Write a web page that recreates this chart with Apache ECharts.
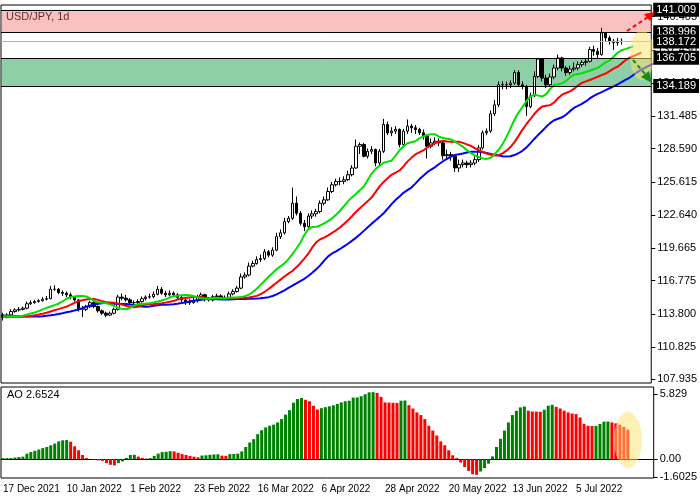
<!DOCTYPE html>
<html>
<head>
<meta charset="utf-8">
<style>html,body{margin:0;padding:0;background:#fff}</style>
</head>
<body>
<div id="main" style="width:700px;height:500px;"></div>
<script src="https://cdn.jsdelivr.net/npm/echarts@6/dist/echarts.min.js"></script>
<script>
  // daily USD/JPY closes, highs, lows (open = previous close)
  let firstOpen = 113.7;
  let closes = [113.5,113.7,114.0,114.15,114.2,114.3,114.7,114.8,114.9,114.97,115.1,115.15,
    116.0,116.0,115.7,115.64,115.5,115.28,115.04,114.2,114.2,114.43,114.8,114.45,
    114.07,113.86,113.68,113.85,114.2,115.3,115.2,115.05,114.8,114.8,114.9,115.15,
    115.3,115.33,115.55,116.0,115.64,115.5,115.64,115.5,115.27,115.04,114.88,114.8,
    114.95,115.33,115.5,115.1,115.04,115.33,115.4,115.2,115.27,115.58,115.8,116.1,
    117.1,117.27,118.07,118.3,118.65,118.75,119.35,119.05,119.5,120.7,121.05,122.05,
    122.35,123.7,122.8,121.9,121.6,122.55,122.75,122.95,123.7,124.0,124.75,
    125.35,125.65,125.65,125.8,126.25,126.85,128.8,128.95,127.9,128.35,128.5,127.3,
    128.35,130.75,130.0,130.15,130.3,128.95,130.15,130.6,130.45,130.3,130.0,129.7,
    128.8,129.1,129.25,129.1,127.95,128.05,127.9,126.85,127.15,127.3,127.15,127.3,
    127.6,128.65,130.0,130.15,131.7,132.5,134.3,134.3,134.3,134.45,135.4,134.3,
    134.15,132.35,133.3,135.05,136.6,134.9,134.3,135.0,135.8,136.7,135.8,135.4,
    135.7,135.8,136.1,136.3,136.4,137.45,137.3,137.0,138.95,138.5,138.2,138.07,138.2,138.17];
  let highs = [113.9,113.85,114.2,114.3,114.4,114.45,114.9,115.0,115.05,115.1,115.3,115.4,
    116.3,116.35,116.1,115.9,115.8,115.7,115.4,115.1,114.5,114.6,114.95,114.9,
    114.55,114.2,114.0,114.0,114.35,115.5,115.6,115.5,115.2,115.0,115.1,115.35,
    115.45,115.6,115.8,116.3,116.2,115.85,115.9,115.8,115.65,115.4,115.2,115.1,
    115.2,115.5,115.7,115.6,115.3,115.5,115.6,115.55,115.45,115.8,116.0,116.3,
    117.4,117.5,118.4,118.55,118.95,119.1,119.6,119.5,119.75,121.05,121.35,122.4,
    122.55,125.1,124.3,123.0,122.2,122.8,123.05,123.2,123.95,124.3,125.1,
    125.6,125.9,126.0,126.1,126.6,127.1,129.4,129.15,129.1,128.6,128.8,128.6,
    128.55,131.25,131.0,130.5,130.6,130.4,130.35,131.2,130.8,130.7,130.45,130.3,
    129.9,129.5,129.6,129.5,129.2,128.5,128.3,128.0,127.6,127.6,127.5,127.55,
    127.9,128.9,130.2,130.4,132.0,132.95,134.6,134.6,134.6,134.7,135.6,135.6,
    134.6,134.3,133.6,135.5,136.7,136.7,135.2,135.3,136.1,137.0,136.8,136.0,
    136.0,136.3,136.4,136.5,136.6,137.7,137.8,137.6,139.4,139.0,138.7,138.4,138.5,138.45];
  let lows = [113.2,113.4,113.6,113.9,114.0,114.1,114.2,114.6,114.7,114.8,114.9,115.0,
    115.1,115.85,115.55,115.4,115.3,115.1,114.9,114.0,113.5,114.05,114.3,114.3,
    113.9,113.7,113.5,113.6,113.75,114.1,115.0,114.9,114.6,114.5,114.65,114.8,
    115.0,115.15,115.2,115.45,115.5,115.3,115.35,115.3,115.1,114.85,114.6,114.6,
    114.7,114.8,115.2,114.9,114.9,114.9,115.2,115.05,115.05,115.15,115.45,115.7,
    116.0,116.95,117.15,117.95,118.2,118.45,118.6,118.85,118.9,119.4,120.5,120.9,
    121.9,122.2,122.6,121.7,121.2,121.5,122.3,122.5,122.8,123.5,123.9,
    124.6,125.2,125.3,125.4,125.7,126.1,126.8,128.1,127.8,127.7,128.1,127.0,
    127.1,128.2,129.8,129.7,129.9,128.7,128.8,129.9,130.0,129.9,129.8,129.4,
    127.7,128.6,128.9,128.8,127.6,127.6,127.5,126.5,126.5,126.9,126.85,126.9,
    127.1,127.4,128.5,129.8,130.0,131.5,132.3,133.9,133.9,134.0,134.3,134.1,
    133.9,131.5,132.2,133.2,134.9,134.6,134.0,134.2,134.8,135.6,135.5,135.1,
    135.2,135.5,135.6,135.9,136.0,136.3,136.9,136.6,136.9,138.2,137.9,137.4,137.8,137.9];
  // Awesome Oscillator values
  let aoValues = [0.1,0.1,0.1,0.15,0.2,0.23,0.5,0.64,0.75,0.87,1.0,1.1,1.25,1.4,1.6,1.7,1.72,
    1.57,1.16,0.8,0.38,0.1,-0.02,-0.05,-0.1,-0.15,-0.35,-0.5,-0.55,-0.35,-0.2,0.12,0.38,0.4,
    0.23,0.12,0.06,0.1,0.3,0.5,0.64,0.67,0.72,0.7,0.58,0.46,0.38,0.3,0.23,0.17,0.33,0.35,0.4,
    0.43,0.44,0.32,0.3,0.46,0.47,0.5,0.7,1.1,1.5,1.8,2.25,2.6,2.85,3.0,3.1,3.3,3.6,4.0,4.4,
    5.07,5.4,5.5,5.33,5.2,4.8,4.46,4.58,4.67,4.75,4.84,4.96,5.1,5.2,5.25,5.53,5.54,5.65,5.83,
    6.0,6.02,5.95,5.6,5.1,5.08,5.06,5.05,5.25,5.27,4.85,4.55,4.2,3.96,3.6,3.0,2.57,2.13,1.6,
    1.25,0.8,0.35,0.1,-0.3,-0.7,-1.05,-1.35,-1.4,-1.1,-0.8,-0.4,0.25,1.1,1.83,2.57,3.3,3.96,
    4.35,4.65,4.73,4.35,4.28,4.27,4.26,4.44,4.8,4.88,4.7,4.55,4.35,4.2,4.1,4.05,3.75,3.17,
    3.0,2.97,2.99,3.17,3.37,3.38,3.3,3.22,3.1,2.9,2.65];
  let dateLabels = ['17 Dec 2021','10 Jan 2022','1 Feb 2022','23 Feb 2022','16 Mar 2022',
    '6 Apr 2022','28 Apr 2022','20 May 2022','13 Jun 2022','5 Jul 2022'];
  let priceTicks = [140.405,137.430,134.460,131.485,128.590,125.615,122.640,119.665,116.775,113.800,110.825,107.935];
  let aoTicks = [5.829, 0, -1.6025];
  let resistance = [138.996, 141.009];
  let support = [134.189, 136.705];
  let lastPrice = 138.172;
  let aoLast = 2.6524;

  let slots = 164;
  let cats = [];
  for (let i = 0; i < slots; i++) cats.push(i);
  let opens = [firstOpen].concat(closes.slice(0, -1));
  let candles = closes.map((c, i) => [opens[i], c, lows[i], highs[i]]);
  let median = highs.map((h, i) => (h + lows[i]) / 2);

  function smma(n, shift) {
    let out = new Array(slots).fill(null);
    let v = median[0];
    for (let i = 0; i < shift; i++) out[i] = v;
    median.forEach((m, i) => {
      v = (v * (n - 1) + m) / n;
      out[i + shift] = +v.toFixed(3);
    });
    return out;
  }
  let jaw = smma(13, 8), teeth = smma(8, 5), lips = smma(5, 3);

  let aoBars = aoValues.map((v, i) => {
    let up = i === 0 ? true : v >= aoValues[i - 1];
    return { value: v, itemStyle: { color: up ? '#008000' : '#ff0000' } };
  });

  let font = 'Liberation Sans';
  let boxLabel = (v) => ({
    yAxis: v,
    label: { show: true, position: 'end', formatter: v.toFixed(3), color: '#fff', backgroundColor: '#000',
      padding: [2, 3, 1, 3], fontSize: 11, fontFamily: font, distance: 2 }
  });

  var myChart = echarts.init(document.getElementById('main'));
  let option = {
    animation: false,
    backgroundColor: '#fff',
    grid: [
      { left: 1, width: 656, top: 5, height: 378, show: true, borderColor: '#000', borderWidth: 1 },
      { left: 1, width: 656, top: 387, height: 91, show: true, borderColor: '#000', borderWidth: 1 }
    ],
    xAxis: [
      { type: 'category', gridIndex: 0, data: cats, boundaryGap: true,
        axisLine: { show: false }, axisTick: { show: false }, axisLabel: { show: false } },
      { type: 'category', gridIndex: 1, data: cats, boundaryGap: true,
        axisLine: { lineStyle: { color: '#000' } },
        axisTick: { interval: (i) => i % 16 === 0 && i <= 144, alignWithLabel: true, length: 4, lineStyle: { color: '#000' } },
        axisLabel: { interval: (i) => i % 16 === 0 && i <= 144, formatter: (v, i) => dateLabels[i / 16] || '',
          align: 'left', margin: 6, fontSize: 10, fontFamily: font, color: '#000' } }
    ],
    yAxis: [
      { type: 'value', gridIndex: 0, position: 'right', min: 107.607, max: 141.44, splitLine: { show: false },
        axisLine: { show: false },
        axisTick: { show: true, customValues: priceTicks, length: 4, lineStyle: { color: '#000' } },
        axisLabel: { customValues: priceTicks, formatter: (v) => v.toFixed(3), fontSize: 11, fontFamily: font, color: '#000', margin: 6 } },
      { type: 'value', gridIndex: 1, position: 'right', min: -1.686, max: 6.48, splitLine: { show: false },
        axisLine: { show: false },
        axisTick: { show: true, customValues: aoTicks, length: 4, lineStyle: { color: '#000' } },
        axisLabel: { customValues: aoTicks, formatter: (v) => v === 0 ? '0.00' : String(v), fontSize: 11, fontFamily: font, color: '#000', margin: 6 } }
    ],
    series: [
      { type: 'candlestick', xAxisIndex: 0, yAxisIndex: 0, data: candles, barWidth: 3,
        itemStyle: { color: '#fff', color0: '#000', borderColor: '#000', borderColor0: '#000', borderWidth: 1 },
        markArea: { silent: true, data: [
          [{ yAxis: resistance[0], itemStyle: { color: 'rgba(240,100,100,0.4)' } }, { yAxis: resistance[1] }],
          [{ yAxis: support[0], itemStyle: { color: 'rgba(30,160,80,0.5)' } }, { yAxis: support[1] }]
        ] },
        markLine: { silent: true, symbol: 'none', z: 10, lineStyle: { color: '#000', width: 1, type: 'solid' },
          data: [boxLabel(resistance[1]), boxLabel(resistance[0]), boxLabel(support[1]), boxLabel(support[0]),
            Object.assign(boxLabel(lastPrice), { lineStyle: { color: '#b4b4b4', width: 1, type: 'solid' } })] } },
      { type: 'line', data: jaw, showSymbol: false, lineStyle: { color: '#0000ff', width: 2 }, z: 3 },
      { type: 'line', data: teeth, showSymbol: false, lineStyle: { color: '#ff0000', width: 2 }, z: 3 },
      { type: 'line', data: lips, showSymbol: false, lineStyle: { color: '#00e000', width: 2 }, z: 3 },
      { type: 'bar', xAxisIndex: 1, yAxisIndex: 1, data: aoBars, barWidth: 3 }
    ],
    graphic: [
      { type: 'text', left: 6, top: 11, style: { text: 'USD/JPY, 1d', font: '11px ' + font, fill: '#000' } },
      { type: 'text', left: 7, top: 389, style: { text: 'AO ' + aoLast.toFixed(4), font: '11px ' + font, fill: '#000' } },
      { type: 'ellipse', shape: { cx: 642, cy: 55, rx: 12, ry: 25 }, style: { fill: 'rgba(255,225,110,0.5)' }, z: 20 },
      { type: 'ellipse', shape: { cx: 628, cy: 440, rx: 14, ry: 28 }, style: { fill: 'rgba(255,225,110,0.5)' }, z: 20 },
      { type: 'line', shape: { x1: 627, y1: 31, x2: 648, y2: 17 }, style: { stroke: '#ff0000', lineWidth: 2, lineDash: [4, 3] }, z: 21 },
      { type: 'polygon', shape: { points: [[655, 12], [644, 14], [650, 21]] }, style: { fill: '#ff0000' }, z: 21 },
      { type: 'line', shape: { x1: 633, y1: 60, x2: 646, y2: 75 }, style: { stroke: '#1a8a1a', lineWidth: 2, lineDash: [4, 3] }, z: 21 },
      { type: 'polygon', shape: { points: [[652, 83], [641, 77], [649, 71]] }, style: { fill: '#1a8a1a' }, z: 21 }
    ]
  };
  myChart.setOption(option);
</script>
</body>
</html>
